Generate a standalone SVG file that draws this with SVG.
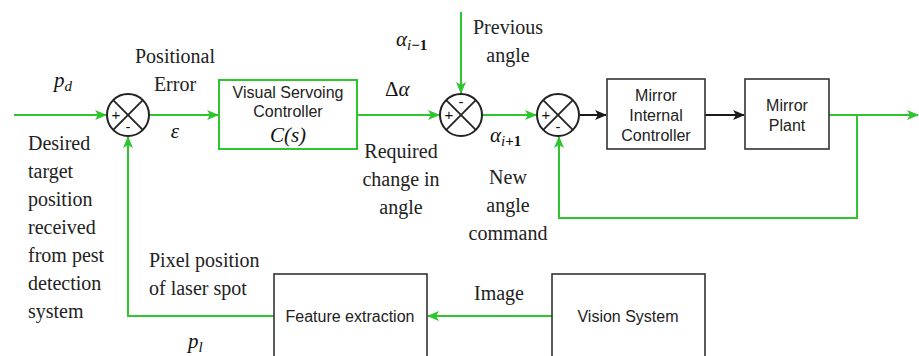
<svg xmlns="http://www.w3.org/2000/svg" width="919" height="356" viewBox="0 0 919 356">
<style>
.g{stroke:#2ec52e;stroke-width:2;fill:none}
.k{stroke:#1a1a1a;stroke-width:2;fill:none}
.box{fill:#fff;stroke:#333;stroke-width:1.6}
.gbox{fill:#fff;stroke:#2ec52e;stroke-width:2}
.sum{fill:#fff;stroke:#222;stroke-width:2}
.x{stroke:#222;stroke-width:1.8}
.sans{font-family:"Liberation Sans",Arial,sans-serif;font-size:16px;fill:#222;text-anchor:middle}
.serif{font-family:"Liberation Serif","Times New Roman",serif;font-size:20px;fill:#222}
.m{font-family:"Liberation Serif","Times New Roman",serif;font-style:italic;font-size:21px;fill:#111}
.sg{font-family:"Liberation Sans",Arial,sans-serif;font-size:15px;fill:#111;text-anchor:middle}
.c{text-anchor:middle}
</style>
<defs>
<marker id="ag" markerWidth="12" markerHeight="10" refX="11" refY="5" orient="auto" markerUnits="userSpaceOnUse">
<path d="M0,0 L12,5 L0,10 L3,5 Z" fill="#2ec52e"/>
</marker>
<marker id="ak" markerWidth="12" markerHeight="10" refX="11" refY="5" orient="auto" markerUnits="userSpaceOnUse">
<path d="M0,0 L12,5 L0,10 L3,5 Z" fill="#1a1a1a"/>
</marker>
</defs>
<g id="connectors">
<line class="g" x1="14" y1="115" x2="106" y2="115" marker-end="url(#ag)"/>
<line class="g" x1="149" y1="115" x2="218" y2="115" marker-end="url(#ag)"/>
<line class="g" x1="357" y1="115" x2="439" y2="115" marker-end="url(#ag)"/>
<line class="g" x1="461" y1="12" x2="461" y2="93" marker-end="url(#ag)"/>
<line class="g" x1="482" y1="115" x2="536" y2="115" marker-end="url(#ag)"/>
<line class="k" x1="580" y1="115" x2="606" y2="115" marker-end="url(#ak)"/>
<line class="k" x1="705" y1="115" x2="744" y2="115" marker-end="url(#ak)"/>
<line class="g" x1="829" y1="115" x2="918" y2="115" marker-end="url(#ag)"/>
<polyline class="g" points="857,115 857,218 559,218 559,137" marker-end="url(#ag)"/>
<line class="g" x1="552" y1="316" x2="428" y2="316" marker-end="url(#ag)"/>
<polyline class="g" points="274,316 128,316 128,137" marker-end="url(#ag)"/>
</g>
<g id="sum1">
<circle class="sum" cx="128" cy="115" r="21"/>
<line class="x" x1="113.2" y1="100.2" x2="142.8" y2="129.8"/>
<line class="x" x1="142.8" y1="100.2" x2="113.2" y2="129.8"/>
<text class="sg" x="116" y="120">+</text>
<text class="sg" x="128" y="132">-</text>
</g>
<g id="sum2">
<circle class="sum" cx="461" cy="115" r="21"/>
<line class="x" x1="446.2" y1="100.2" x2="475.8" y2="129.8"/>
<line class="x" x1="475.8" y1="100.2" x2="446.2" y2="129.8"/>
<text class="sg" x="449" y="120">+</text>
<text class="sg" x="461" y="107">-</text>
</g>
<g id="sum3">
<circle class="sum" cx="558" cy="115" r="21"/>
<line class="x" x1="543.2" y1="100.2" x2="572.8" y2="129.8"/>
<line class="x" x1="572.8" y1="100.2" x2="543.2" y2="129.8"/>
<text class="sg" x="546" y="120">+</text>
<text class="sg" x="558" y="132">-</text>
</g>
<g id="vsc">
<rect class="gbox" x="219" y="80" width="138" height="69"/>
<text class="sans" x="288" y="98">Visual Servoing</text>
<text class="sans" x="288" y="117">Controller</text>
<text class="m c" x="288" y="142">C(s)</text>
</g>
<g id="mic">
<rect class="box" x="607" y="79" width="98" height="70"/>
<text class="sans" x="656" y="101">Mirror</text>
<text class="sans" x="656" y="121">Internal</text>
<text class="sans" x="656" y="141">Controller</text>
</g>
<g id="mp">
<rect class="box" x="745" y="79" width="84" height="70"/>
<text class="sans" x="787" y="111">Mirror</text>
<text class="sans" x="787" y="131">Plant</text>
</g>
<g id="fe">
<rect class="box" x="274" y="274" width="153" height="90"/>
<text class="sans" x="350" y="322">Feature extraction</text>
</g>
<g id="vs">
<rect class="box" x="552" y="274" width="153" height="90"/>
<text class="sans" x="628" y="322">Vision System</text>
</g>
<g id="labels">
<text class="m" x="54" y="87">p<tspan font-size="15" dy="4">d</tspan></text>
<text class="serif c" x="175" y="63">Positional</text>
<text class="serif c" x="175" y="91">Error</text>
<text class="m c" x="175" y="138">ε</text>
<text class="serif" x="28" y="150">Desired</text>
<text class="serif" x="28" y="178">target</text>
<text class="serif" x="28" y="206">position</text>
<text class="serif" x="28" y="234">received</text>
<text class="serif" x="28" y="262">from pest</text>
<text class="serif" x="28" y="290">detection</text>
<text class="serif" x="28" y="318">system</text>
<text class="serif" x="149" y="267">Pixel position</text>
<text class="serif" x="149" y="295">of laser spot</text>
<text class="m" x="188" y="348">p<tspan font-size="15" dy="4">l</tspan></text>
<text class="serif c" x="499" y="300">Image</text>
<text class="m" x="396" y="46">α<tspan font-size="15" dy="4">i</tspan><tspan font-size="15" font-style="normal" font-weight="bold">−1</tspan></text>
<text class="serif c" x="508" y="34">Previous</text>
<text class="serif c" x="508" y="62">angle</text>
<text class="m" x="385" y="96"><tspan font-style="normal">Δ</tspan>α</text>
<text class="serif c" x="401" y="158">Required</text>
<text class="serif c" x="401" y="186">change in</text>
<text class="serif c" x="401" y="214">angle</text>
<text class="m" x="490" y="142">α<tspan font-size="15" dy="4">i</tspan><tspan font-size="15" font-style="normal" font-weight="bold">+1</tspan></text>
<text class="serif c" x="508" y="184">New</text>
<text class="serif c" x="508" y="212">angle</text>
<text class="serif c" x="508" y="240">command</text>
</g>
</svg>
